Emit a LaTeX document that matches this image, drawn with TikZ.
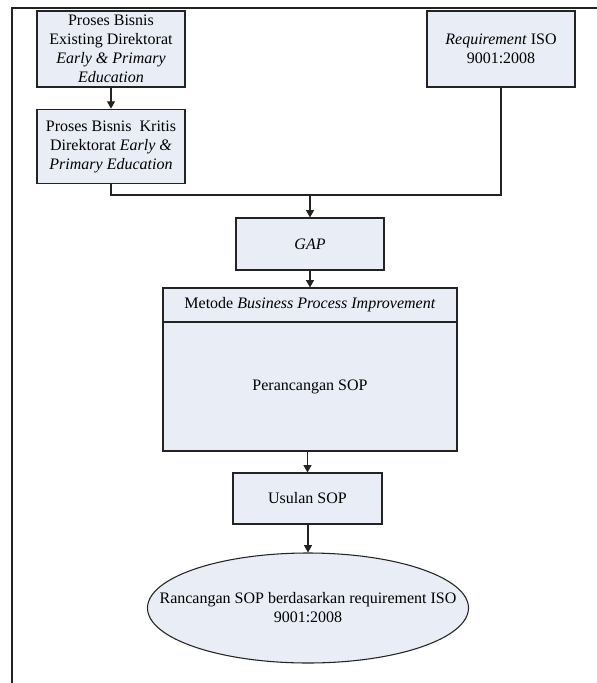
\documentclass[tikz,border=0pt]{standalone}
\usepackage{fontspec}
\setmainfont{Liberation Serif}
\usetikzlibrary{positioning,shapes.geometric,arrows.meta}
\definecolor{isikotak}{RGB}{233,237,245}
\definecolor{garis}{RGB}{35,35,35}

\begin{document}
\begin{tikzpicture}[x=0.75pt, y=-0.75pt,
	font=\fontsize{12pt}{14.3pt}\selectfont,
	kotak/.style = { draw=garis, fill=isikotak, line width=0.8pt, align=center, inner sep=2pt },
	panah/.style = { draw=garis, line width=0.8pt, -{Triangle[width=6pt,length=5.5pt]} },
	sambung/.style = { draw=garis, line width=0.8pt }]

  \useasboundingbox (0,0) rectangle (597,683);
  \draw[sambung] (12,683) -- (12,8) -- (597,8);

  % masukan
  \node[kotak, minimum width=111pt, minimum height=57pt] (existing) at (111,49)
    {Proses Bisnis\\Existing Direktorat\\\textit{Early \& Primary}\\\textit{Education}};
  \node[kotak, minimum width=111pt, minimum height=56pt] (kritis) at (111,146.5)
    {Proses Bisnis\ \ Kritis\\Direktorat \textit{Early \&}\\\textit{Primary Education}};
  \node[kotak, minimum width=111pt, minimum height=57pt] (iso) at (501,49)
    {\textit{Requirement} ISO\\9001:2008};
  \coordinate (gabung) at (310,195);

  % proses
  \node[kotak, minimum width=111pt, minimum height=39pt] (gap) at (310,244) {\textit{GAP}};
  \node[kotak, minimum width=220.5pt, minimum height=122.25pt] (bpi) at (310,369.5) {};
  \draw[sambung] (bpi.west |- 0,322) -- (bpi.east |- 0,322);
  \node (metode) at (310,305) {Metode \textit{Business Process Improvement}};
  \node (perancangan) at (310,387) {Perancangan SOP};
  \node[kotak, minimum width=111.75pt, minimum height=38.25pt] (usulan) at (307.5,498.5) {Usulan SOP};

  % hasil
  \node[kotak, ellipse, minimum width=240.75pt, minimum height=82.5pt] (rancangan) at (308,608) {};
  \node[align=center] (rancangantext) at (rancangan) {Rancangan SOP berdasarkan requirement ISO\\9001:2008};

  \draw[panah] (existing) -- (kritis);
  \draw[sambung] (kritis.south) |- (gabung);
  \draw[sambung] (iso.south) |- (gabung);
  \draw[panah] (gabung) -- (gap);
  \draw[panah] (gap) -- (bpi);
  \draw[panah] (bpi.south -| usulan) -- (usulan);
  \draw[panah] (usulan.south -| rancangan) -- (rancangan);
\end{tikzpicture}
\end{document}
